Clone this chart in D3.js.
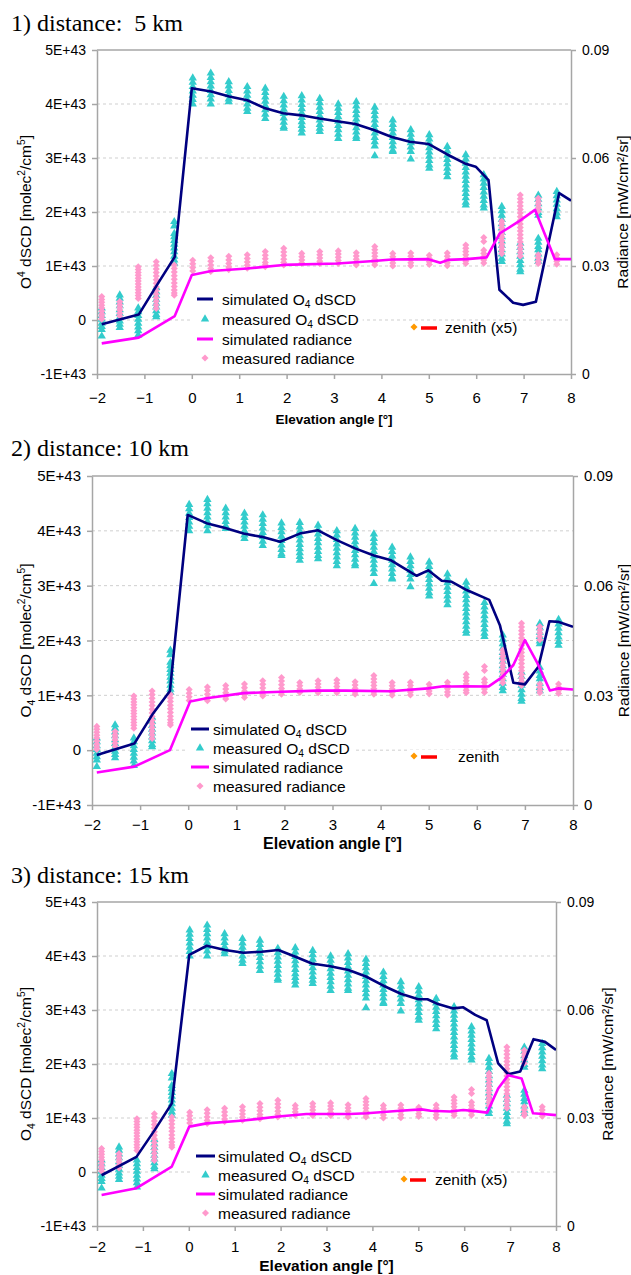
<!DOCTYPE html>
<html>
<head>
<meta charset="utf-8">
<script src="https://cdn.jsdelivr.net/npm/d3@7"></script>
<style>
  html, body { margin: 0; padding: 0; background: #fff; }
  svg { display: block; }
  text { font-family: "Liberation Sans", Arial, sans-serif; fill: #000; }
</style>
</head>
<body>
<svg id="chart" width="631" height="1275"></svg>
<script>
// ---------------- data ----------------
// Elevation angles (°) of the MAX-DOAS measurement sequence
const elevationAngles = [-1.9, -1.52, -1.13, -0.75, -0.37, 0.02, 0.40, 0.78, 1.17, 1.55, 1.94, 2.32, 2.70,
  3.09, 3.47, 3.86, 4.24, 4.62, 5.01, 5.39, 5.78, 6.16, 6.54, 6.93, 7.31, 7.70];

// Measured O4 dSCD per elevation angle (units of 1E+43 molec²/cm⁵)
const measuredO4 = [
  [0.22, 0.15, 0.08, 0.01, -0.06, -0.12, -0.18, -0.30],
  [0.46, 0.40, 0.33, 0.26, 0.19, 0.12, 0.05, -0.02, -0.08, -0.14],
  [0.22, 0.15, 0.08, 0.01, -0.06, -0.13, -0.20, -0.28],
  [0.60, 0.52, 0.45, 0.38, 0.31, 0.24, 0.17, 0.10, 0.06],
  [1.82, 1.74, 1.60, 1.54, 1.47, 1.40, 1.33, 1.26, 1.18, 1.11, 1.05],
  [4.48, 4.40, 4.32, 4.24, 4.16, 4.08, 4.00],
  [4.57, 4.49, 4.41, 4.33, 4.25, 4.17, 4.09, 4.00],
  [4.41, 4.33, 4.25, 4.17, 4.09, 4.04],
  [4.32, 4.24, 4.16, 4.08, 4.00, 3.92, 3.86],
  [4.29, 4.21, 4.13, 4.05, 3.97, 3.89, 3.81, 3.73],
  [4.14, 4.06, 3.98, 3.90, 3.82, 3.74, 3.66, 3.58, 3.55],
  [4.15, 4.07, 3.99, 3.91, 3.83, 3.75, 3.67, 3.60, 3.53, 3.46],
  [4.10, 4.02, 3.94, 3.86, 3.78, 3.70, 3.62, 3.55, 3.49],
  [4.00, 3.92, 3.84, 3.76, 3.68, 3.60, 3.52, 3.44, 3.36],
  [4.04, 3.96, 3.88, 3.80, 3.72, 3.64, 3.56, 3.48, 3.40, 3.36],
  [3.94, 3.86, 3.78, 3.70, 3.62, 3.54, 3.46, 3.38, 3.30, 3.22, 3.04],
  [3.70, 3.62, 3.54, 3.46, 3.38, 3.30, 3.22, 3.14, 3.12],
  [3.52, 3.44, 3.36, 3.28, 3.20, 3.12, 2.98],
  [3.43, 3.35, 3.27, 3.19, 3.11, 3.03, 2.95, 2.87, 2.81],
  [3.21, 3.13, 3.05, 2.97, 2.89, 2.81, 2.73, 2.65],
  [3.06, 2.98, 2.90, 2.82, 2.74, 2.66, 2.58, 2.50, 2.42, 2.34, 2.26, 2.18, 2.13],
  [2.69, 2.61, 2.53, 2.45, 2.37, 2.29, 2.21, 2.13, 2.07],
  [2.10, 2.02, 1.94, 1.86, 1.78, 1.70, 1.62, 1.54, 1.46, 1.38, 1.30, 1.22, 1.14, 1.08],
  [1.42, 1.34, 1.26, 1.18, 1.10, 1.02, 0.94, 0.89],
  [2.31, 2.23, 2.15, 2.07, 1.99, 1.94, 1.51, 1.44, 1.36, 1.30, 1.22, 1.14, 1.08],
  [2.38, 2.30, 2.22, 2.14, 2.06, 1.98, 1.91]
];

// Measured radiance per elevation angle (mW/cm²/sr)
const measuredRadiance = [
  [0.0215, 0.0207, 0.0199, 0.0191, 0.0183, 0.0175, 0.0167, 0.0159, 0.0152],
  [0.0201, 0.0193, 0.0185, 0.0177, 0.0169, 0.0161],
  [0.0298, 0.0290, 0.0282, 0.0274, 0.0266, 0.0258, 0.0250, 0.0242, 0.0234, 0.0226, 0.0218, 0.0210],
  [0.0312, 0.0302, 0.0292, 0.0282, 0.0272, 0.0262, 0.0252, 0.0242, 0.0232, 0.0222, 0.0212, 0.0202, 0.0192, 0.0182],
  [0.0303, 0.0293, 0.0283, 0.0273, 0.0263, 0.0253, 0.0243, 0.0233, 0.0225, 0.0219],
  [0.0316, 0.0306, 0.0296, 0.0286],
  [0.0323, 0.0313, 0.0303, 0.0293, 0.0285],
  [0.0327, 0.0317, 0.0307, 0.0297, 0.0290],
  [0.0331, 0.0321, 0.0311, 0.0302, 0.0294],
  [0.0340, 0.0330, 0.0320, 0.0310, 0.0303, 0.0298],
  [0.0349, 0.0339, 0.0329, 0.0319, 0.0310, 0.0303],
  [0.0335, 0.0326, 0.0317, 0.0308],
  [0.0340, 0.0331, 0.0322, 0.0313, 0.0307],
  [0.0342, 0.0333, 0.0324, 0.0315, 0.0307],
  [0.0337, 0.0328, 0.0319, 0.0310, 0.0303],
  [0.0354, 0.0345, 0.0336, 0.0327, 0.0318, 0.0310, 0.0303],
  [0.0335, 0.0326, 0.0317, 0.0308, 0.0300],
  [0.0336, 0.0327, 0.0318, 0.0309, 0.0301],
  [0.0330, 0.0321, 0.0312, 0.0304],
  [0.0336, 0.0327, 0.0318, 0.0309, 0.0301],
  [0.0358, 0.0349, 0.0340, 0.0331, 0.0322, 0.0314, 0.0307],
  [0.0379, 0.0368, 0.0344, 0.0335, 0.0326, 0.0317, 0.0308],
  [0.0424, 0.0415, 0.0406, 0.0397, 0.0388, 0.0379, 0.0370, 0.0361, 0.0352, 0.0343, 0.0334],
  [0.0497, 0.0487, 0.0477, 0.0467, 0.0457, 0.0447, 0.0437, 0.0427, 0.0417, 0.0407, 0.0397, 0.0387,
   0.0377, 0.0367, 0.0357, 0.0347, 0.0337, 0.0327],
  [0.0488, 0.0479, 0.0470, 0.0461, 0.0452, 0.0331, 0.0322, 0.0313, 0.0307],
  [0.0331, 0.0322, 0.0313, 0.0305]
];

// Simulated O4 dSCD [angle (°), 1E+43 molec²/cm⁵] for each aerosol layer distance
const simO4_5km = [[-1.9, -0.08], [-1.12, 0.10], [-0.74, 0.64], [-0.36, 1.17], [0.0, 4.29], [0.41, 4.23],
  [0.79, 4.14], [1.17, 4.07], [1.55, 3.92], [1.93, 3.83], [2.31, 3.79], [2.69, 3.73], [3.07, 3.68],
  [3.45, 3.63], [3.84, 3.52], [4.22, 3.39], [4.60, 3.30], [4.99, 3.26], [5.38, 3.07], [5.76, 2.90],
  [5.99, 2.84], [6.26, 2.59], [6.49, 0.56], [6.78, 0.32], [6.99, 0.28], [7.26, 0.34], [7.75, 2.35], [8.0, 2.21]];
const simO4_10km = [[-1.9, -0.09], [-1.12, 0.12], [-0.73, 0.67], [-0.38, 1.08], [-0.01, 4.29], [0.38, 4.14],
  [0.77, 4.05], [1.15, 3.95], [1.53, 3.89], [1.91, 3.80], [2.32, 3.95], [2.70, 4.01], [3.09, 3.83],
  [3.47, 3.68], [3.86, 3.55], [4.20, 3.47], [4.75, 3.18], [4.99, 3.28], [5.27, 3.09], [5.48, 3.07],
  [5.79, 2.92], [6.26, 2.74], [6.48, 2.28], [6.76, 1.23], [7.0, 1.20], [7.28, 1.52], [7.51, 2.35],
  [7.69, 2.34], [8.0, 2.25]];
const simO4_15km = [[-1.9, -0.06], [-1.14, 0.28], [-0.74, 0.78], [-0.37, 1.27], [0.01, 4.02], [0.39, 4.19],
  [0.79, 4.11], [1.19, 4.06], [1.59, 4.08], [1.95, 4.11], [2.31, 3.99], [2.68, 3.86], [3.08, 3.81],
  [3.48, 3.74], [3.86, 3.62], [4.24, 3.45], [4.62, 3.30], [5.0, 3.20], [5.2, 3.20], [5.43, 3.11],
  [5.76, 3.03], [5.98, 3.05], [6.24, 2.91], [6.49, 2.81], [6.74, 2.01], [6.96, 1.81], [7.22, 1.86],
  [7.51, 2.46], [7.76, 2.41], [8.0, 2.26]];

// Simulated radiance [angle (°), mW/cm²/sr]
const simRad_5km = [[-1.9, 0.0085], [-1.12, 0.0101], [-0.36, 0.0161], [0.0, 0.0275], [0.41, 0.0286],
  [1.17, 0.0293], [1.93, 0.0303], [3.07, 0.0307], [3.84, 0.0314], [4.22, 0.0318], [4.99, 0.0319],
  [5.24, 0.0309], [5.41, 0.0317], [5.80, 0.0319], [6.22, 0.0324], [6.50, 0.0391], [6.89, 0.0423],
  [7.24, 0.0456], [7.66, 0.0319], [8.0, 0.0319]];
const simRad_10km = [[-1.9, 0.0089], [-1.12, 0.0105], [-0.38, 0.0150], [0.04, 0.0283], [0.38, 0.0292],
  [1.15, 0.0306], [1.94, 0.0310], [2.70, 0.0313], [3.26, 0.0313], [4.20, 0.0311], [4.99, 0.0319],
  [5.30, 0.0325], [5.48, 0.0324], [5.75, 0.0325], [6.24, 0.0324], [6.52, 0.0349], [6.76, 0.0383],
  [7.0, 0.0451], [7.26, 0.0388], [7.52, 0.0313], [7.69, 0.0319], [8.0, 0.0316]];
const simRad_15km = [[-1.9, 0.0086], [-1.14, 0.0105], [-0.37, 0.0165], [0.01, 0.0276], [0.39, 0.0285],
  [1.19, 0.0293], [1.95, 0.0304], [2.56, 0.0311], [3.51, 0.0311], [3.88, 0.0313], [4.60, 0.0320],
  [5.07, 0.0324], [5.27, 0.0320], [5.69, 0.0318], [5.98, 0.0322], [6.24, 0.0319], [6.50, 0.0315],
  [6.74, 0.0382], [6.96, 0.0419], [7.25, 0.0410], [7.50, 0.0313], [7.72, 0.0311], [8.0, 0.0308]];

// Axis ticks and labels
const angleTicks = [-2, -1, 0, 1, 2, 3, 4, 5, 6, 7, 8];
const o4Ticks = [-1, 0, 1, 2, 3, 4, 5];
const o4TickLabels = ["-1E+43", "0", "1E+43", "2E+43", "3E+43", "4E+43", "5E+43"];
const radianceTicks = [0, 0.03, 0.06, 0.09];
const radianceTickLabels = ["0", "0.03", "0.06", "0.09"];

// ---------------- styling ----------------
const C = {
  navy: "#000080", teal: "#33CCCC", magenta: "#FF00FF", pink: "#FF99CC",
  axis: "#a6a6a6", grid: "#cfcfcf", orange: "#FF9900", red: "#FF0000"
};

const panels = [
  {
    title: "1) distance:\u00a0 5 km", titleY: 31,
    left: 97, right: 571, top: 50, bottom: 374,
    simO4: simO4_5km, simRad: simRad_5km, o4Index: "sup",
    tickFont: 14, xTickFont: 15, xTickBase: 403, xLabelFont: 13.5, xLabelY: 424,
    yLabelX: 31, rLabelX: 628,
    legend: { x0: 197, x1: 213, tx: 222, rows: [299, 319, 339, 358] },
    zenith: { x: 414, y: 327, x0: 421, x1: 437, tx: 445, text: "zenith (x5)" }
  },
  {
    title: "2) distance: 10 km", titleY: 456,
    left: 92, right: 573, top: 476, bottom: 805,
    simO4: simO4_10km, simRad: simRad_10km, o4Index: "sub",
    tickFont: 15, xTickFont: 15, xTickBase: 830, xLabelFont: 16, xLabelY: 849,
    yLabelX: 31, rLabelX: 629,
    legend: { x0: 191, x1: 209, tx: 213, rows: [729, 748, 767, 786] },
    zenith: { x: 414, y: 756, x0: 421, x1: 437, tx: 458, text: "zenith" }
  },
  {
    title: "3) distance: 15 km", titleY: 883,
    left: 97, right: 556, top: 902, bottom: 1226,
    simO4: simO4_15km, simRad: simRad_15km, o4Index: "sub",
    tickFont: 14, xTickFont: 15, xTickBase: 1252, xLabelFont: 15.5, xLabelY: 1271,
    yLabelX: 31, rLabelX: 613,
    legend: { x0: 196, x1: 215, tx: 218, rows: [1156, 1175, 1194, 1213] },
    zenith: { x: 404, y: 1179, x0: 410, x1: 426, tx: 435, text: "zenith (x5)" }
  }
];

const svg = d3.select("#chart");
svg.append("rect").attr("width", 631).attr("height", 1275).attr("fill", "#fff");

const triangle = d3.symbol(d3.symbolTriangle, 30);
const diamond = d3.symbol(d3.symbolSquare, 25);

// Text with sub/superscript parts: parts = [[string, "sub"|"sup"|null], ...]
function richText(sel, parts, size) {
  let shift = 0;
  parts.forEach(([s, kind]) => {
    const t = sel.append("tspan").text(s);
    let target = 0;
    if (kind === "sub") { target = size * 0.24; t.style("font-size", (size * 0.66) + "px"); }
    if (kind === "sup") { target = -size * 0.38; t.style("font-size", (size * 0.66) + "px"); }
    t.attr("dy", target - shift);
    shift = target;
  });
}

panels.forEach((p, pi) => {
  const g = svg.append("g");
  const x = d3.scaleLinear().domain([-2, 8]).range([p.left, p.right]);
  const yL = d3.scaleLinear().domain([-1, 5]).range([p.bottom, p.top]);
  const yR = d3.scaleLinear().domain([0, 0.09]).range([p.bottom, p.top]);

  // Panel title
  g.append("text").attr("x", 11).attr("y", p.titleY)
    .style("font-family", '"Liberation Serif", "Times New Roman", serif')
    .style("font-size", "24px").text(p.title);

  // Horizontal dashed gridlines at inner O4 ticks
  g.append("g").selectAll("line").data(o4Ticks.filter(t => t > -1 && t < 5)).join("line")
    .attr("x1", p.left).attr("x2", p.right)
    .attr("y1", d => yL(d)).attr("y2", d => yL(d))
    .attr("stroke", C.grid).attr("stroke-width", 1).attr("stroke-dasharray", "3,3");

  // Axes
  const styleAxis = (ag, fs) => {
    ag.select(".domain").attr("stroke", C.axis).attr("stroke-width", 1.5);
    ag.selectAll(".tick line").attr("stroke", C.axis).attr("stroke-width", 1.5);
    ag.selectAll(".tick text").style("font-size", fs + "px")
      .style("font-family", '"Liberation Sans", Arial, sans-serif').attr("fill", "#111");
  };
  const gl = g.append("g").attr("transform", `translate(${p.left},0)`)
    .call(d3.axisLeft(yL).tickValues(o4Ticks).tickFormat((d, i) => o4TickLabels[i])
      .tickSizeInner(5).tickSizeOuter(0).tickPadding(6));
  styleAxis(gl, p.tickFont);
  const gr = g.append("g").attr("transform", `translate(${p.right},0)`)
    .call(d3.axisRight(yR).tickValues(radianceTicks).tickFormat((d, i) => radianceTickLabels[i])
      .tickSizeInner(5).tickSizeOuter(0).tickPadding(6));
  styleAxis(gr, p.tickFont);
  const gb = g.append("g").attr("transform", `translate(0,${p.bottom})`)
    .call(d3.axisBottom(x).tickValues(angleTicks).tickFormat(d3.format("d"))
      .tickSizeInner(5).tickSizeOuter(0).tickPadding(8));
  styleAxis(gb, p.xTickFont);
  gb.selectAll(".tick text").attr("y", null).attr("dy", null)
    .attr("transform", `translate(0,${p.xTickBase - p.bottom})`);
  g.append("line").attr("x1", p.left).attr("x2", p.right).attr("y1", p.top).attr("y2", p.top)
    .attr("stroke", C.axis).attr("stroke-width", 1.5);

  // Axis titles
  g.append("text").attr("x", (p.left + p.right) / 2).attr("y", p.xLabelY)
    .attr("text-anchor", "middle").style("font-weight", "bold").style("font-size", p.xLabelFont + "px")
    .text("Elevation angle [°]");
  const yl = g.append("text")
    .attr("transform", `translate(${p.yLabelX},${(p.top + p.bottom) / 2}) rotate(-90)`)
    .attr("text-anchor", "middle").style("font-size", "15.5px");
  richText(yl, [["O", null], ["4", p.o4Index], [" dSCD [molec", null], ["2", "sup"], ["/cm", null], ["5", "sup"], ["]", null]], 15.5);
  g.append("text")
    .attr("transform", `translate(${p.rLabelX},${(p.top + p.bottom) / 2}) rotate(-90)`)
    .attr("text-anchor", "middle").style("font-size", "15.5px")
    .text("Radiance [mW/cm²/sr]");

  // Plot-area clip
  const clipId = "clip" + pi;
  g.append("clipPath").attr("id", clipId).append("rect")
    .attr("x", p.left).attr("y", p.top).attr("width", p.right - p.left).attr("height", p.bottom - p.top);
  const plot = g.append("g").attr("clip-path", `url(#${clipId})`);

  // Measured O4 dSCD (triangles)
  const o4Pts = elevationAngles.flatMap((a, i) => measuredO4[i].map(v => [a, v]));
  plot.append("g").selectAll("path").data(o4Pts).join("path")
    .attr("d", triangle).attr("transform", d => `translate(${x(d[0])},${yL(d[1])})`)
    .attr("fill", C.teal);

  // Measured radiance (diamonds)
  const radPts = elevationAngles.flatMap((a, i) => measuredRadiance[i].map(v => [a, v]));
  plot.append("g").selectAll("path").data(radPts).join("path")
    .attr("d", diamond).attr("transform", d => `translate(${x(d[0])},${yR(d[1])}) rotate(45)`)
    .attr("fill", C.pink);

  // Simulated curves
  plot.append("path").datum(p.simO4)
    .attr("d", d3.line().x(d => x(d[0])).y(d => yL(d[1])))
    .attr("fill", "none").attr("stroke", C.navy).attr("stroke-width", 2.6).attr("stroke-linejoin", "round");
  plot.append("path").datum(p.simRad)
    .attr("d", d3.line().x(d => x(d[0])).y(d => yR(d[1])))
    .attr("fill", "none").attr("stroke", C.magenta).attr("stroke-width", 2.6).attr("stroke-linejoin", "round");

  // Legend
  const L = p.legend;
  const lg = g.append("g");
  const bg = lg.append("rect").attr("fill", "#fff");
  const entries = [
    { kind: "line", color: C.navy, parts: [["simulated O", null], ["4", "sub"], [" dSCD", null]] },
    { kind: "tri", color: C.teal, parts: [["measured O", null], ["4", "sub"], [" dSCD", null]] },
    { kind: "line", color: C.magenta, parts: [["simulated radiance", null]] },
    { kind: "dia", color: C.pink, parts: [["measured radiance", null]] }
  ];
  entries.forEach((e, i) => {
    const cy = L.rows[i];
    if (e.kind === "line") {
      lg.append("line").attr("x1", L.x0).attr("x2", L.x1).attr("y1", cy).attr("y2", cy)
        .attr("stroke", e.color).attr("stroke-width", 3);
    } else {
      lg.append("path").attr("d", e.kind === "tri" ? triangle : diamond)
        .attr("transform", `translate(${(L.x0 + L.x1) / 2},${cy})${e.kind === "dia" ? " rotate(45)" : ""}`)
        .attr("fill", e.color);
    }
    const t = lg.append("text").attr("x", L.tx).attr("y", cy + 5.5).style("font-size", "15.5px");
    richText(t, e.parts, 15.5);
  });
  const bb = lg.node().getBBox();
  bg.attr("x", bb.x - 4).attr("y", bb.y - 2).attr("width", bb.width + 8).attr("height", bb.height + 4);

  // Zenith legend entry
  const Z = p.zenith;
  const zg = g.append("g");
  const zbg = zg.append("rect").attr("fill", "#fff");
  zg.append("path").attr("d", diamond).attr("transform", `translate(${Z.x},${Z.y}) rotate(45)`)
    .attr("fill", C.orange);
  zg.append("line").attr("x1", Z.x0).attr("x2", Z.x1).attr("y1", Z.y + 1).attr("y2", Z.y + 1)
    .attr("stroke", C.red).attr("stroke-width", 3.5);
  zg.append("text").attr("x", Z.tx).attr("y", Z.y + 6).style("font-size", "15.5px").text(Z.text);
  const zb = zg.node().getBBox();
  zbg.attr("x", zb.x - 3).attr("y", zb.y + 2).attr("width", zb.width + 6).attr("height", zb.height - 2);
});
</script>
</body>
</html>
